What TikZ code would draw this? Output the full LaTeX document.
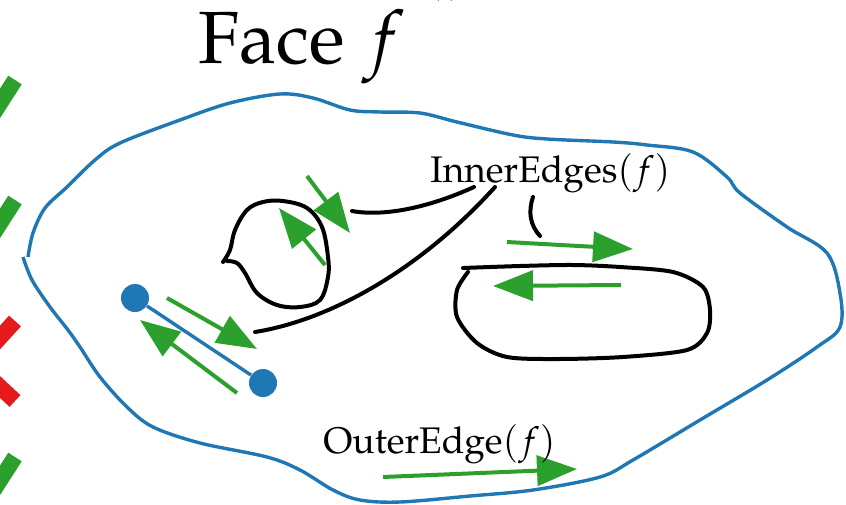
\documentclass[tikz,border=0pt]{standalone}
\usepackage[T1]{fontenc}
\usepackage{mathpazo}
\usepackage{tikz}
\definecolor{edgeblue}{RGB}{31,119,180}
\definecolor{halfgreen}{RGB}{44,160,44}
\definecolor{markred}{RGB}{228,26,28}
\usetikzlibrary{arrows.meta}

\begin{document}
\begin{tikzpicture}[x=0.5pt, y=-0.5pt, >={Triangle[length=20pt, width=15pt]},
    half/.style={->, halfgreen, line width=2pt},
    lead/.style={black, line width=2pt, line cap=round},
    tick/.style={line width=8pt},
    dot/.style={circle, fill=edgeblue, inner sep=0pt, minimum size=14pt},
    lbl/.style={inner sep=0pt, anchor=base west, font=\fontsize{18.5}{20}\selectfont}]
    \useasboundingbox (0,0) rectangle (846,504);
    % Marks at the left edge
    \draw[tick, halfgreen] (15,80) -- (-12,122);
    \draw[tick, halfgreen] (15,200) -- (-12,242);
    \draw[tick, markred] (15,321) -- (-15,354);
    \draw[tick, markred] (15,401) -- (-15,373);
    \draw[tick, halfgreen] (15,457) -- (-12,499);
    % Title
    \node[inner sep=0pt, anchor=base west, font=\fontsize{37}{40}\selectfont] (title) at (198,63) {Face $f$};
    \node[inner sep=0pt, anchor=base, font=\fontsize{13}{14}\selectfont] (index) at (445,-6) {$(i)$};
    % Face boundary
    \draw[edgeblue, line width=1.7pt] plot[smooth, tension=0.55] coordinates {
        (28,257) (33,233) (45,208) (67,187) (95,160) (120,143) (180,120) (230,103)
        (280,94) (313,98) (350,110) (380,112) (420,113) (457,122) (513,135)
        (547,139) (613,142) (647,145) (693,152) (727,177) (740,193) (787,227)
        (827,253) (840,293) (840,327) (817,347) (767,380) (700,420) (633,460)
        (600,477) (533,490) (470,496) (400,502) (360,500) (333,490) (300,470)
        (267,457) (200,443) (153,427) (127,407) (100,377) (80,347) (68,330)
        (50,307) (32,280) (23,257)};
    % Isolated edge
    \node[dot] (u) at (135,298) {};
    \node[dot] (v) at (263,383) {};
    \draw[edgeblue, line width=1.7pt] (u) -- (v);
    % Loop and hole
    \draw[lead] plot[smooth, tension=0.6] coordinates {
        (223,262) (230,250) (235,230) (247,210) (263,202) (283,201) (307,208)
        (322,227) (328,257) (328,277) (320,300) (300,307) (277,305) (257,293)
        (245,273) (237,263) (227,261)};
    \draw[lead] plot[smooth, tension=0.5] coordinates {
        (468,272) (457,290) (457,317) (477,343) (507,357) (557,359) (623,357)
        (687,350) (707,333) (710,310) (703,287) (673,272) (620,267) (573,265)
        (520,266) (463,268)};
    % Half-edges
    \coordinate (e1s) at (167,298); \coordinate (e1t) at (257,349);
    \coordinate (e2s) at (237,393); \coordinate (e2t) at (140,320);
    \coordinate (l1s) at (307,176); \coordinate (l1t) at (350,233);
    \coordinate (l2s) at (325,265); \coordinate (l2t) at (279,208);
    \coordinate (h1s) at (507,242); \coordinate (h1t) at (633,249);
    \coordinate (h2s) at (621,285); \coordinate (h2t) at (493,286);
    \coordinate (o1s) at (383,477); \coordinate (o1t) at (577,469);
    \draw[half] (e1s) -- (e1t);
    \draw[half] (e2s) -- (e2t);
    \draw[half] (l1s) -- (l1t);
    \draw[half] (l2s) -- (l2t);
    \draw[half] (h1s) -- (h1t);
    \draw[half] (h2s) -- (h2t);
    \draw[half] (o1s) -- (o1t);
    % Labels
    \node[lbl] (inner) at (430,182) {InnerEdges$(f)$};
    \node[lbl] (outer) at (323,453) {OuterEdge$(f)$};
    \coordinate (p1) at (474,187); \coordinate (q1) at (352,211);
    \coordinate (p2) at (495,187); \coordinate (q2) at (255,332);
    \coordinate (p3) at (533,197); \coordinate (q3) at (540,236);
    \draw[lead] (p1) .. controls (430,207) and (385,217) .. (q1);
    \draw[lead] (p2) .. controls (420,270) and (330,320) .. (q2);
    \draw[lead] (p3) .. controls (528,212) and (530,225) .. (q3);
\end{tikzpicture}
\end{document}
